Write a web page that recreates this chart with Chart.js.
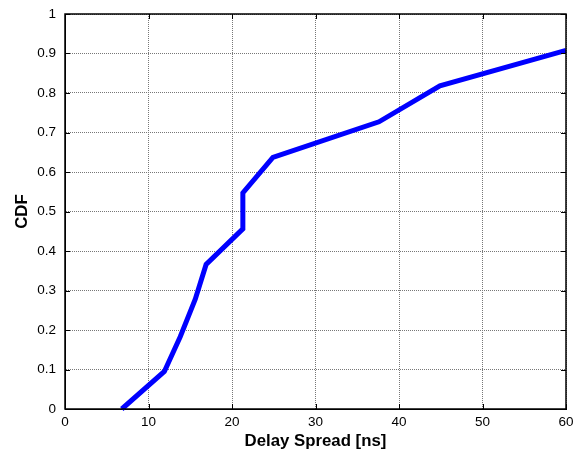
<!DOCTYPE html>
<html>
<head>
<meta charset="utf-8">
<script src="https://cdn.jsdelivr.net/npm/chart.js@4.4.1/dist/chart.umd.min.js"></script>
<style>
	html, body { margin: 0; padding: 0; background: #fff; }
	#wrap { width: 573px; height: 455px; }
</style>
</head>
<body>
<div id="wrap"><canvas id="cdfc" width="573" height="455"></canvas></div>
<script>
// Data

var delaySpread = [6.8, 11.9, 13.8, 15.6, 16.9, 21.3, 21.3, 24.9, 37.6, 44.9, 60];
var cdfValues = [0, 0.095, 0.183, 0.278, 0.366, 0.456, 0.547, 0.637, 0.727, 0.818, 0.908];
var xTicks = [0, 10, 20, 30, 40, 50, 60];
var yTicks = [0, 0.1, 0.2, 0.3, 0.4, 0.5, 0.6, 0.7, 0.8, 0.9, 1];

var points = delaySpread.map(function(x, i) {
	return {x: x, y: cdfValues[i]};
});

// box + inward ticks (matlab style)

var frame = {
	id: 'frame',
	afterDraw: function(chart) {
		var ctx = chart.ctx;
		var a = chart.chartArea;
		var sx = chart.scales.x, sy = chart.scales.y;
		ctx.save();
		ctx.strokeStyle = '#000';
		ctx.lineWidth = 1;
		ctx.beginPath();
		xTicks.forEach(function(v) {
			var p = Math.round(sx.getPixelForValue(v)) + 0.5;
			ctx.moveTo(p, a.bottom); ctx.lineTo(p, a.bottom - 5);
			ctx.moveTo(p, a.top); ctx.lineTo(p, a.top + 5);
		});
		yTicks.forEach(function(v) {
			var p = Math.round(sy.getPixelForValue(v)) + 0.5;
			ctx.moveTo(a.left, p); ctx.lineTo(a.left + 5, p);
			ctx.moveTo(a.right, p); ctx.lineTo(a.right - 5, p);
		});
		ctx.stroke();
		ctx.lineWidth = 1.5;
		ctx.strokeRect(a.left, a.top, a.right - a.left, a.bottom - a.top);
		ctx.restore();
	}
};

Chart.defaults.font.family = "'Liberation Sans', Arial, sans-serif";
Chart.defaults.color = '#000';

new Chart("cdfc", {
	type: "scatter",
	data: {
		datasets: [{
			data: points,
			showLine: true,
			borderColor: "#0000ff",
			backgroundColor: "#0000ff",
			borderWidth: 5,
			pointRadius: 0,
			tension: 0,
			clip: false
		}]
	},
	options: {
		responsive: false,
		animation: false,
		layout: {padding: {top: 14, right: 7, left: 0, bottom: 0}},
		plugins: {legend: {display: false}, tooltip: {enabled: false}},
		scales: {
			x: {
				type: 'linear',
				min: 0, max: 60,
				afterBuildTicks: function(s) { s.ticks = xTicks.map(function(v) { return {value: v}; }); },
				afterFit: function(s) { s.height = 46; s.paddingLeft = 0; s.paddingRight = 0; },
				ticks: {font: {size: 13.5}, padding: 5, maxRotation: 0, callback: function(v) { return String(v); }},
				grid: {color: '#777', drawTicks: false, lineWidth: 1},
				border: {display: true, color: '#000', dash: [1, 1]},
				title: {display: true, text: 'Delay Spread [ns]', font: {size: 16.8, weight: 'bold'}, padding: {top: 0, bottom: 4}}
			},
			y: {
				min: 0, max: 1,
				afterBuildTicks: function(s) { s.ticks = yTicks.map(function(v) { return {value: v}; }); },
				afterFit: function(s) { s.width = 65; s.paddingTop = 0; s.paddingBottom = 0; },
				ticks: {font: {size: 13.5}, padding: 9, callback: function(v) { return String(Math.round(v * 10) / 10); }},
				grid: {color: '#777', drawTicks: false, lineWidth: 1},
				border: {display: true, color: '#000', dash: [1, 1]},
				title: {display: true, text: 'CDF', font: {size: 16.8, weight: 'bold'}, padding: {top: 12, bottom: 0}}
			}
		}
	},
	plugins: [frame]
});
</script>
</body>
</html>
